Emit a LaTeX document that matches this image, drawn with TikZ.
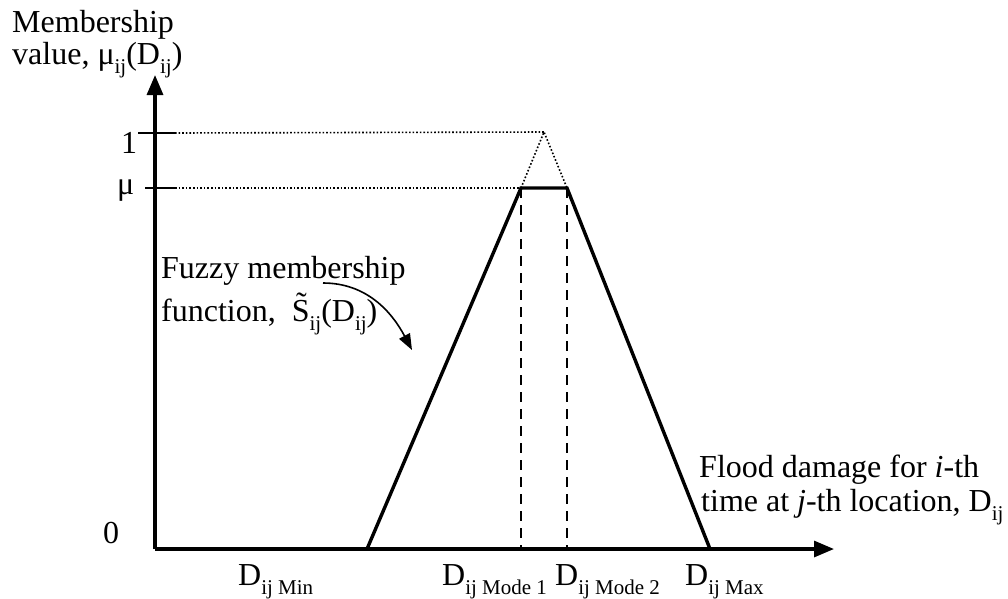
\documentclass[tikz,border=0pt]{standalone}
\usepackage{fontspec}
\setmainfont{Liberation Serif}
\usetikzlibrary{arrows.meta}
\newcommand\lowsub[1]{\raisebox{-0.3em}{\fontsize{21}{21}\selectfont #1}}
\tikzset{
  axis/.style={line width=3.2pt,-{Triangle[length=20pt,width=16pt]}},
  curve/.style={line width=3.4pt,line join=miter},
  guide/.style={line width=1.6pt,dotted},
  mode/.style={line width=2.8pt,dash pattern=on 10pt off 7pt},
  lbl/.style={inner sep=0pt,anchor=base west,font=\fontsize{32}{36}\selectfont}
}
\begin{document}
\begin{tikzpicture}[x=1pt,y=-1pt]
  \useasboundingbox (0,0) rectangle (1008,598);
  % key points of the trapezoid
  \coordinate (o) at (155,549);
  \coordinate (dmin) at (367,549);
  \coordinate (m1) at (521,188);
  \coordinate (m2) at (567,188);
  \coordinate (dmax) at (710,549);
  \coordinate (apex) at (544,132);
  \coordinate (m1b) at (521,549);
  \coordinate (m2b) at (567,549);
  \coordinate (ytop) at (155,75);
  \coordinate (xend) at (834,549);
  % axes
  \draw[axis] (o) -- (ytop);
  \draw[axis] (o) -- (xend);
  % ticks
  \draw[line width=2.8pt] (138,133) -- (175,133);
  \draw[line width=2.8pt] (145,188) -- (175,188);
  \draw[guide] (175,133) -- (apex);
  \draw[guide] (175,188) -- (m1);
  \draw[guide] (m1) -- (apex) -- (m2);
  % membership function
  \draw[curve] (dmin) -- (m1) -- (m2) -- (dmax);
  \draw[mode] (m1) -- (m1b);
  \draw[mode] (m2) -- (m2b);
  % labels
  \node[lbl] (ylab1) at (12,32) {Membership};
  \node[lbl] (ylab2) at (12,64) {value, μ\lowsub{ij}(D\lowsub{ij})};
  \node[lbl] (one) at (121,153) {1};
  \node[lbl] (mu) at (117,194) {μ};
  \node[lbl] (zero) at (103,543) {0};
  \node[lbl] (fz1) at (161,278) {Fuzzy membership};
  \node[lbl] (fz2) at (161,321) {function, \ \~{S}\lowsub{ij}(D\lowsub{ij})};
  \node[lbl] (fl1) at (699,477) {Flood damage for \textit{i}-th};
  \node[lbl] (fl2) at (701,511) {time at \textit{j}-th location, D\lowsub{ij}};
  \node[lbl] (lmin) at (238,585) {D\lowsub{ij Min}};
  \node[lbl] (lm1) at (442,585) {D\lowsub{ij Mode 1}};
  \node[lbl] (lm2) at (555,585) {D\lowsub{ij Mode 2}};
  \node[lbl] (lmax) at (685,585) {D\lowsub{ij Max}};
  % pointer to the curve
  \coordinate (ptr) at (323,283);
  \coordinate (ptrend) at (412,350);
  \draw[line width=1.6pt,-{Triangle[length=16pt,width=12pt]}] (ptr) to[out=0,in=118] (ptrend);
\end{tikzpicture}
\end{document}
